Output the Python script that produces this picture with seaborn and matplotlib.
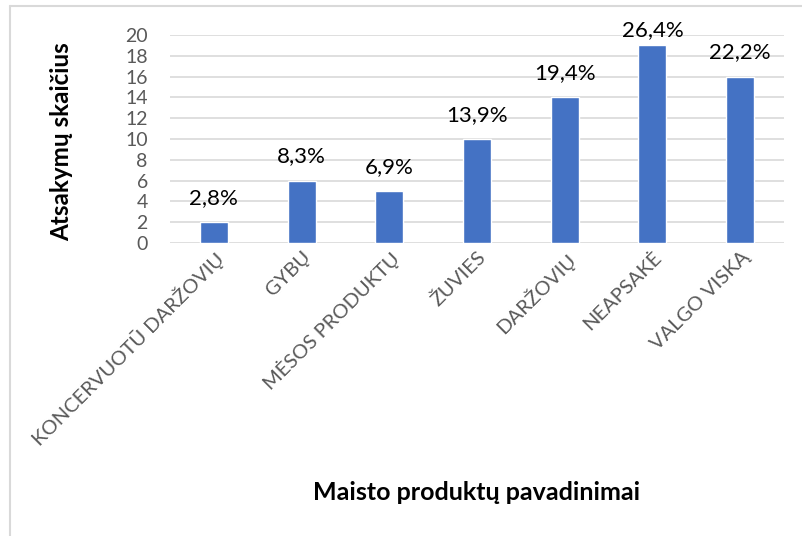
import matplotlib
matplotlib.use("Agg")
import matplotlib.pyplot as plt
import seaborn as sns
import pandas as pd
from matplotlib.lines import Line2D

categories = ["KONCERVUOTŪ DARŽOVIŲ", "GYBŲ", "MĖSOS PRODUKTŲ", "ŽUVIES",
              "DARŽOVIŲ", "NEAPSAKĖ", "VALGO VISKĄ"]
values = [2, 6, 5, 10, 14, 19, 16]
pct_labels = ["2,8%", "8,3%", "6,9%", "13,9%", "19,4%", "26,4%", "22,2%"]
yticks = [0, 2, 4, 6, 8, 10, 12, 14, 16, 18, 20]

sns.set_theme(style="white")
plt.rcParams['font.family'] = ['Lato', 'DejaVu Sans']

df = pd.DataFrame({"cat": categories, "val": values})

W, H = 803, 536
fig = plt.figure(figsize=(W / 100, H / 100), dpi=100)
fig.patch.set_facecolor("white")
# chart-area border (top and left visible)
fig.lines.append(Line2D([10 / W, 10 / W], [0, 1 - 6 / H], transform=fig.transFigure,
                        color="#D9D9D9", linewidth=1.5))
fig.lines.append(Line2D([10 / W, 1], [1 - 6 / H, 1 - 6 / H], transform=fig.transFigure,
                        color="#D9D9D9", linewidth=1.5))

ax = fig.add_axes([170 / W, 1 - 243 / H, 614 / W, 208 / H])

sns.barplot(data=df, x="cat", y="val", color="#4472C4", width=0.32, ax=ax,
            saturation=1, zorder=3)

ax.set_ylim(0, 20)
ax.set_xlim(-0.5, len(categories) - 0.5)
ax.set_yticks(yticks)
ax.yaxis.grid(True, color="#D9D9D9", linewidth=1.2, zorder=0)
ax.set_axisbelow(True)
for s in ax.spines.values():
    s.set_visible(False)
ax.tick_params(axis="both", length=0, colors="#595959")
ax.tick_params(axis="y", pad=16)
ax.tick_params(axis="x", pad=4)
ax.set_xticks(range(len(categories)))
ax.set_xticklabels(categories, rotation=45, ha="right", rotation_mode="anchor",
                   color="#595959", fontsize=14.5)
ax.set_yticklabels([str(t) for t in yticks], color="#595959", fontsize=14)

for i, (v, t) in enumerate(zip(values, pct_labels)):
    off = 13 if v < 18 else 7
    ax.annotate(t, (i, v), xytext=(0, off), textcoords="offset points",
                ha="center", va="baseline", fontsize=16, color="black",
                annotation_clip=False)

ax.set_xlabel("")
ax.set_ylabel("")
fig.text(62 / W, 1 - 142 / H, "Atsakymų skaičius", rotation=90, ha="center", va="center",
         fontsize=17.5, fontweight="bold", color="black")
fig.text(477 / W, 1 - 492 / H, "Maisto produktų pavadinimai", ha="center", va="center",
         fontsize=18, fontweight="bold", color="black")

fig.savefig("out.png", dpi=100, facecolor="white")
